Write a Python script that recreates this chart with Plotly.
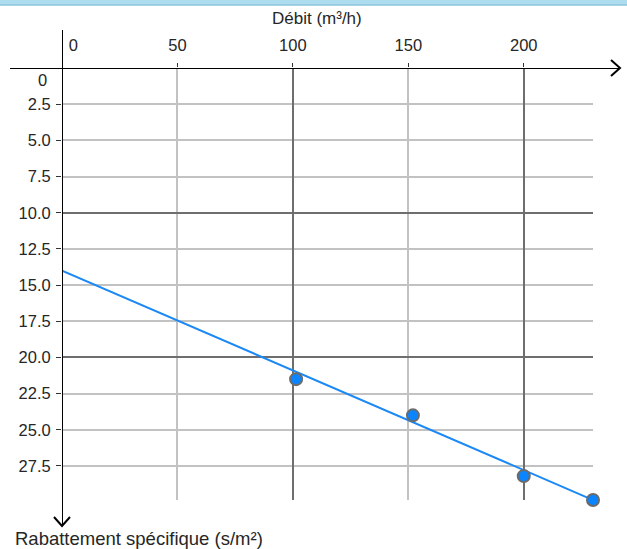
import plotly.graph_objects as go

# Data
debit = [101.4, 152, 200, 230]
rabattement = [21.5, 24.0, 28.2, 29.85]
trend_x = [0, 230]
trend_y = [14.0, 29.85]
x_ticks = [0, 50, 100, 150, 200]
x_ticktext = ["\u00a0\u00a0\u00a0\u00a0\u00a00", "50", "100", "150", "200"]
y_ticks = [2.5, 5.0, 7.5, 10.0, 12.5, 15.0, 17.5, 20.0, 22.5, 25.0, 27.5]
y_ticktext = ["2.5", "5.0", "7.5", "10.0", "12.5", "15.0", "17.5", "20.0", "22.5", "25.0", "27.5"]
x_range = [0, 230]
y_range = [29.85, 0]

FONT = "Liberation Sans, Arial, sans-serif"
TXT = "#262626"

fig = go.Figure()
fig.add_trace(go.Scatter(x=trend_x, y=trend_y, mode="lines",
                         line=dict(color="#1a88f5", width=2),
                         hoverinfo="skip", showlegend=False, cliponaxis=False))
fig.add_trace(go.Scatter(x=debit, y=rabattement, mode="markers",
                         marker=dict(color="#0a84ff", size=12,
                                     line=dict(color="#6b6b6b", width=2)),
                         showlegend=False, cliponaxis=False))
# invisible trace for the darker major grid overlay axes
fig.add_trace(go.Scatter(x=trend_x, y=trend_y, xaxis="x2", yaxis="y2",
                         mode="lines", line=dict(width=0), opacity=0,
                         hoverinfo="skip", showlegend=False))

fig.update_layout(
    width=627, height=549,
    margin=dict(l=62, r=34, t=68, b=49),
    paper_bgcolor="white", plot_bgcolor="white",
    font=dict(family=FONT, color=TXT, size=16),
    xaxis=dict(range=x_range, side="top", tickmode="array",
               tickvals=x_ticks, ticktext=x_ticktext,
               showgrid=True, gridcolor="#c2c2c2", gridwidth=1.5,
               zeroline=False, showline=False,
               ticks="outside", ticklen=4, tickcolor="#333",
               tickfont=dict(size=16.5, color=TXT), ticklabelstandoff=5),
    yaxis=dict(range=y_range, tickmode="array",
               tickvals=y_ticks, ticktext=y_ticktext,
               showgrid=True, gridcolor="#c2c2c2", gridwidth=1.5,
               zeroline=False, showline=False,
               ticks="outside", ticklen=5, tickcolor="#333",
               tickfont=dict(size=16.5, color=TXT), ticklabelstandoff=2),
    xaxis2=dict(range=x_range, overlaying="x", side="top", dtick=100, tick0=0,
                showgrid=True, gridcolor="#6e6e6e", gridwidth=1.5,
                showticklabels=False, zeroline=False, showline=False),
    yaxis2=dict(range=y_range, overlaying="y", dtick=10, tick0=0,
                showgrid=True, gridcolor="#6e6e6e", gridwidth=1.5,
                showticklabels=False, zeroline=False, showline=False),
)

shapes = [
    # top header band
    dict(type="rect", xref="paper", yref="paper", x0=-0.2, x1=1.2,
         y0=1 + 63 / 432, y1=1 + 70 / 432, fillcolor="#acdcee",
         line=dict(width=0), layer="below"),
    dict(type="line", xref="paper", yref="paper", x0=-0.2, x1=1.2,
         y0=1 + 63 / 432, y1=1 + 63 / 432, line=dict(color="#8cc4dc", width=1.5)),
    # horizontal axis line
    dict(type="line", xref="paper", yref="y", x0=-52 / 531, x1=1 + 26 / 531,
         y0=0, y1=0, line=dict(color="black", width=2)),
    # arrowhead right
    dict(type="path", xref="paper", yref="paper",
         path=f"M {1 + 18/531} {1 + 8/432} L {1 + 27/531} 1 L {1 + 18/531} {1 - 8/432}",
         line=dict(color="black", width=2)),
    # vertical axis line
    dict(type="line", xref="x", yref="paper", x0=0, x1=0,
         y0=1 + 38 / 432, y1=-25 / 432, line=dict(color="black", width=2)),
    # arrowhead bottom
    dict(type="path", xref="paper", yref="paper",
         path=f"M {-8/531} {-17/432} L 0 {-26/432} L {8/531} {-17/432}",
         line=dict(color="black", width=2)),
]
fig.update_layout(shapes=shapes)

fig.add_annotation(text="Débit (m³/h)", xref="paper", yref="paper",
                   x=(317 - 62) / 531, y=1 + 49 / 432, showarrow=False,
                   font=dict(size=17, color=TXT), xanchor="center", yanchor="middle")
fig.add_annotation(text="0", x=0, y=0, xref="paper", yref="y",
                   xanchor="right", yanchor="top", xshift=-13, yshift=-1,
                   showarrow=False, font=dict(size=16.5, color=TXT))
fig.add_annotation(text="Rabattement spécifique (s/m²)", xref="paper", yref="paper",
                   x=-49 / 531, y=-38 / 432, xanchor="left", yanchor="middle",
                   showarrow=False, font=dict(size=18.5, color=TXT))

fig.write_html("out.html")
